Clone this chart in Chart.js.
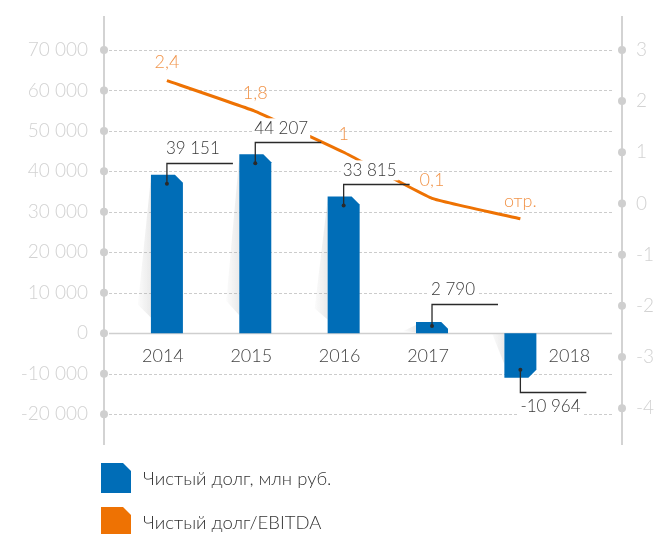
<!DOCTYPE html>
<html><head><meta charset="utf-8">
<script src="https://cdn.jsdelivr.net/npm/chart.js@4.4.1/dist/chart.umd.min.js"></script>
<style>
html,body{margin:0;padding:0;background:#fff;}
#wrap{position:relative;width:654px;height:534px;overflow:hidden;}
canvas{position:absolute;left:0;top:0;}
.leg{position:absolute;left:101px;display:flex;align-items:center;font-family:Lato,'Open Sans',sans-serif;font-weight:300;font-size:18.5px;color:#333;white-space:nowrap;}
.sw{width:30px;height:30px;clip-path:polygon(0 0,22px 0,30px 8px,30px 100%,0 100%);margin-right:12px;}
</style></head>
<body><div id="wrap"><canvas id="c" width="654" height="534"></canvas>
<div class="leg" id="leg0" style="top:463px"><div class="sw" style="background:#006db7"></div><span></span></div>
<div class="leg" id="leg1" style="top:507px"><div class="sw" style="background:#ee7203"></div><span></span></div>
</div>
<script>
const years = ['2014','2015','2016','2017','2018'];
const netDebt = [39151, 44207, 33815, 2790, -10964];
const netDebtLabels = ['39 151','44 207','33 815','2 790','-10 964'];
const ratio = [2.4, 1.8, 1.0, 0.1, -0.3];
const ratioLabels = ['2,4','1,8','1','0,1','отр.'];
const leftTicks = [-20000,-10000,0,10000,20000,30000,40000,50000,60000,70000];
const rightTicks = [-4,-3,-2,-1,0,1,2,3];
const seriesNames = ['Чистый долг, млн руб.','Чистый долг/EBITDA'];

document.querySelector('#leg0 span').textContent = seriesNames[0];
document.querySelector('#leg1 span').textContent = seriesNames[1];

const BLUE = '#006db7', ORANGE = '#ee7203';
const FONT = 'Lato';

function fmt(v){
  const s = String(Math.abs(v)).replace(/\B(?=(\d{3})+(?!\d))/g,' ');
  return (v<0?'-':'') + s;
}

const deco = {
  id:'deco',
  beforeDatasetsDraw(chart){
    const ctx = chart.ctx, yL = chart.scales.y, a = chart.chartArea;
    ctx.save();
    leftTicks.forEach(v=>{
      const py = Math.round(yL.getPixelForValue(v)) + 0.5;
      ctx.beginPath();
      if (v === 0){ ctx.setLineDash([]); ctx.strokeStyle='#cfcfcf'; ctx.lineWidth=1.5; }
      else { ctx.setLineDash([3,2]); ctx.strokeStyle='#cccccc'; ctx.lineWidth=1; }
      ctx.moveTo(a.left+5, py); ctx.lineTo(a.right-10, py); ctx.stroke();
    });
    ctx.setLineDash([]);
    const meta = chart.getDatasetMeta(0);
    meta.data.forEach((el)=>{
      const p = el.getProps(['x','y','base','width'], true);
      const l = p.x - p.width/2, r = p.x + p.width/2, neg = p.y > p.base;
      const h = Math.abs(p.base - p.y);
      const g = ctx.createLinearGradient(l, 0, l-14, 0);
      g.addColorStop(0, 'rgba(150,150,150,0.20)');
      g.addColorStop(1, 'rgba(150,150,150,0.02)');
      ctx.fillStyle = g;
      ctx.beginPath();
      if (!neg){
        ctx.moveTo(l, p.y+3); ctx.lineTo(l-13, p.base - h*0.18); ctx.lineTo(l, p.base - h*0.1);
      } else {
        ctx.moveTo(l-12, p.base+1); ctx.lineTo(l, p.base+1); ctx.lineTo(l, p.base + h*0.7);
      }
      ctx.closePath(); ctx.fill();
      const c = Math.min(8, h*0.6);
      ctx.fillStyle = BLUE;
      ctx.beginPath();
      ctx.moveTo(l, p.base); ctx.lineTo(l, p.y); ctx.lineTo(r-c, p.y);
      ctx.lineTo(r, neg ? p.y - c : p.y + c); ctx.lineTo(r, p.base);
      ctx.closePath(); ctx.fill();
    });
    ctx.restore();
  },
  afterDatasetsDraw(chart){
    const ctx = chart.ctx, yL = chart.scales.y;
    ctx.save();
    const zero = yL.getPixelForValue(0);
    const meta = chart.getDatasetMeta(0);
    meta.data.forEach((el,i)=>{
      const p = el.getProps(['x','y','base'], true);
      const neg = p.y > p.base, h = Math.abs(p.base - p.y);
      ctx.strokeStyle = '#2a2a2a'; ctx.fillStyle = '#2a2a2a'; ctx.lineWidth = 1.3;
      ctx.font = '300 17px ' + FONT;
      const txt = netDebtLabels[i];
      const tw = ctx.measureText(txt).width;
      let dy, ly, ty;
      if (!neg){ dy = p.y + Math.min(9, h*0.35); ly = p.y - (h < 30 ? 18 : 12); ty = ly - 14; }
      else { dy = p.y - 8; ly = p.y + 14; ty = ly + 15; }
      ctx.beginPath();
      ctx.moveTo(p.x, dy); ctx.lineTo(p.x, Math.round(ly)+0.5); ctx.lineTo(p.x+66, Math.round(ly)+0.5);
      ctx.stroke();
      ctx.beginPath(); ctx.arc(p.x, dy, 2, 0, Math.PI*2); ctx.fill();
      const tx = neg ? p.x : p.x - 1;
      ctx.fillStyle = '#ffffff';
      ctx.fillRect(tx-2, ty-10, tw+4, 20);
      ctx.fillStyle = '#3a3a3a';
      ctx.textBaseline = 'middle'; ctx.textAlign = 'left';
      ctx.fillText(txt, tx, ty);
      ctx.font = '300 18px ' + FONT;
      ctx.textAlign = 'center';
      ctx.fillStyle = '#444';
      ctx.fillText(years[i], neg ? p.x + 49 : p.x - 4, zero + 23);
    });
    const m1 = chart.getDatasetMeta(1);
    ctx.font = '300 18px ' + FONT;
    ctx.fillStyle = '#f1944a';
    ctx.textAlign = 'center'; ctx.textBaseline = 'middle';
    m1.data.forEach((el,i)=>{
      ctx.fillText(ratioLabels[i], el.x, el.y - 18);
    });
    ctx.restore();
  },
  afterDraw(chart){
    const ctx = chart.ctx, yL = chart.scales.y, yR = chart.scales.y1, a = chart.chartArea;
    ctx.save();
    ctx.fillStyle = '#cfcfcf';
    leftTicks.forEach(v=>{
      ctx.beginPath(); ctx.arc(a.left, yL.getPixelForValue(v), 4, 0, Math.PI*2); ctx.fill();
    });
    rightTicks.forEach(v=>{
      ctx.beginPath(); ctx.arc(a.right, yR.getPixelForValue(v), 4, 0, Math.PI*2); ctx.fill();
    });
    ctx.restore();
  }
};

new Chart(document.getElementById('c'), {
  type:'bar',
  data:{
    datasets:[
      {type:'bar', label:seriesNames[0], data:years.map((_,i)=>({x:i, y:netDebt[i]})),
       backgroundColor:'rgba(0,0,0,0)', borderWidth:0, barThickness:32, yAxisID:'y', xAxisID:'x', order:2},
      {type:'line', label:seriesNames[1], data:years.map((_,i)=>({x:i, y:ratio[i]})),
       borderColor:ORANGE, borderWidth:3, pointRadius:0, tension:0.1, fill:false, yAxisID:'y1', xAxisID:'x', order:1}
    ]
  },
  options:{
    responsive:false, animation:false, devicePixelRatio:1,
    layout:{padding:{top:17, bottom:90, left:0, right:0}},
    plugins:{legend:{display:false}, tooltip:{enabled:false}},
    scales:{
      x:{type:'linear', display:false, min:-0.712, max:5.15, offset:false},
      y:{position:'left', min:-27360, max:78134,
         afterBuildTicks:s=>{ s.ticks = leftTicks.map(v=>({value:v})); },
         afterFit:s=>{ s.width = 104; s.paddingTop = 0; s.paddingBottom = 0; },
         grid:{display:false, drawTicks:false},
         border:{display:true, color:'#d3d3d3', width:2},
         ticks:{padding:16, color:'#d2d2d2', font:{family:FONT, size:19, weight:'300'}, callback:v=>fmt(v)}},
      y1:{position:'right', min:-4.70, max:3.643,
         afterBuildTicks:s=>{ s.ticks = rightTicks.map(v=>({value:v})); },
         afterFit:s=>{ s.width = 32; s.paddingTop = 0; s.paddingBottom = 0; },
         grid:{display:false, drawTicks:false},
         border:{display:true, color:'#d3d3d3', width:2},
         ticks:{padding:14, color:'#d2d2d2', font:{family:FONT, size:19, weight:'300'}, callback:v=>String(v)}}
    }
  },
  plugins:[deco]
});
</script>
</body></html>
